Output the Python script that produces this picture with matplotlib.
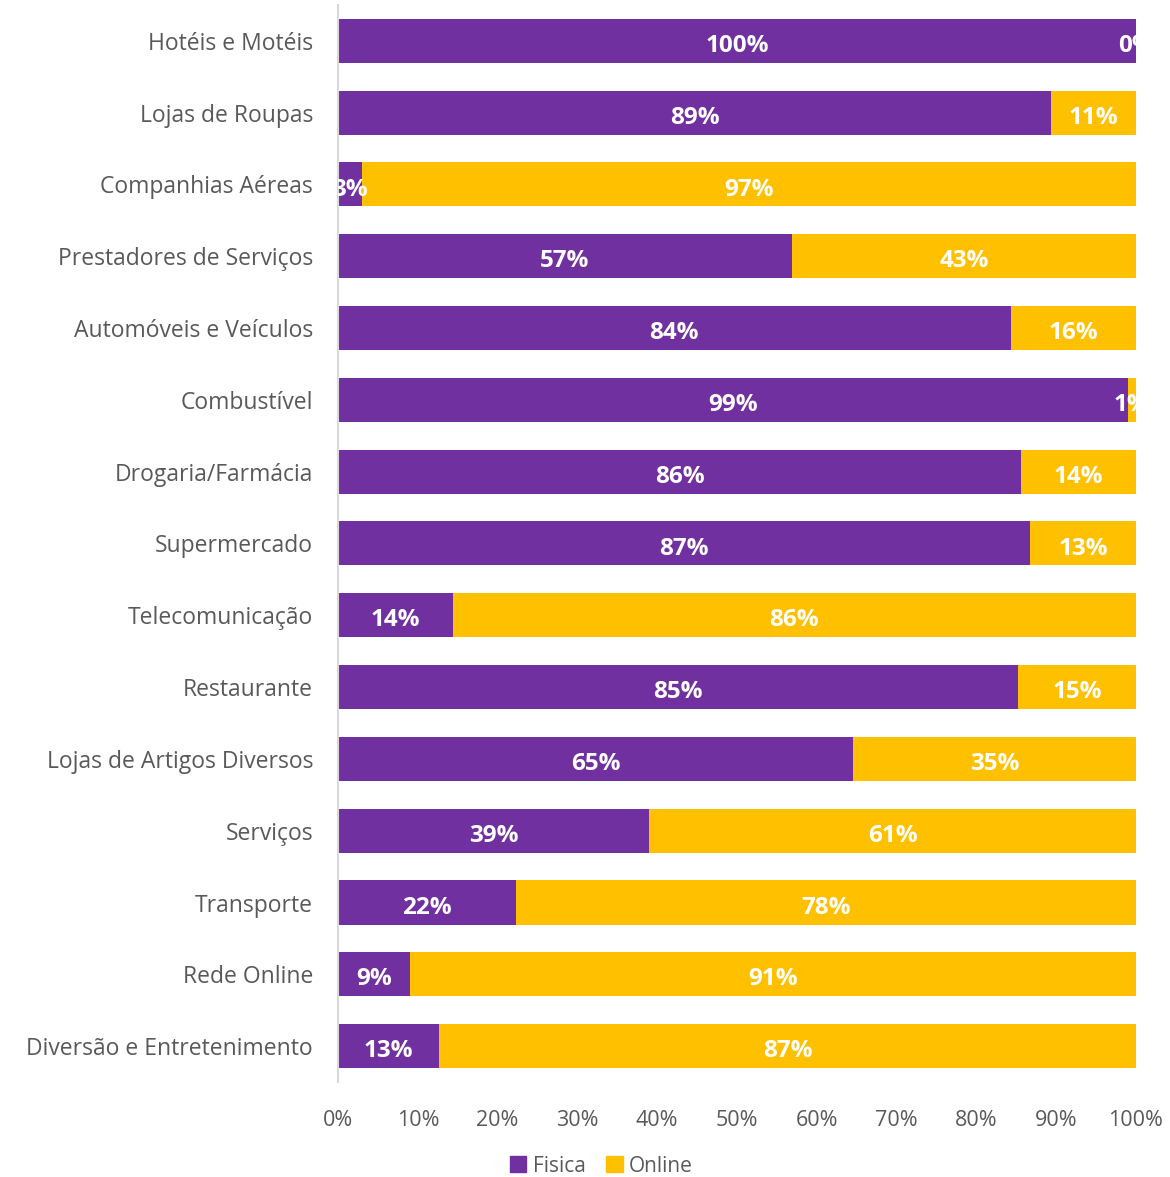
import numpy as np
import matplotlib.pyplot as plt
from matplotlib.patches import Patch

categorias = ['Hotéis e Motéis', 'Lojas de Roupas', 'Companhias Aéreas', 'Prestadores de Serviços',
              'Automóveis e Veículos', 'Combustível', 'Drogaria/Farmácia', 'Supermercado',
              'Telecomunicação', 'Restaurante', 'Lojas de Artigos Diversos', 'Serviços',
              'Transporte', 'Rede Online', 'Diversão e Entretenimento']
fisica = [100.0, 89.4, 3.0, 56.9, 84.3, 99.0, 85.6, 86.7, 14.4, 85.2, 64.6, 39.0, 22.3, 9.0, 12.7]
online = [100.0 - v for v in fisica]

roxo = '#7030A0'
amarelo = '#FFC000'
fonte = 'Open Sans'

fig = plt.figure(figsize=(11.7, 11.77), dpi=100)
ax = fig.add_axes([0.2889, 0.0807, 0.6820, 0.9151])

y = np.arange(len(categorias))
ax.barh(y, fisica, height=0.613, color=roxo, label='Fisica')
ax.barh(y, online, left=fisica, height=0.613, color=amarelo, label='Online')

# rótulos dentro das barras
for i in range(len(categorias)):
    ax.text(fisica[i] / 2, i + 0.03, f'{round(fisica[i])}%', ha='center', va='center_baseline',
            color='white', fontsize=17.5, fontweight='bold', family=fonte, clip_on=True)
    ax.text(fisica[i] + online[i] / 2, i + 0.03, f'{round(online[i])}%', ha='center', va='center_baseline',
            color='white', fontsize=17.5, fontweight='bold', family=fonte, clip_on=True)

ax.set_xlim(0, 100)
ax.set_ylim(len(categorias) - 0.5, -0.5)
ax.set_yticks(y)
ax.set_yticklabels(categorias, family=fonte, fontsize=16.5, color='#595959')
ax.set_xticks(np.arange(0, 101, 10))
ax.set_xticklabels([f'{v}%' for v in range(0, 101, 10)], family=fonte, fontsize=15.5, color='#595959')
ax.tick_params(axis='both', length=0)
ax.tick_params(axis='y', pad=18)
ax.tick_params(axis='x', pad=20)

for s in ['top', 'right', 'bottom']:
    ax.spines[s].set_visible(False)
ax.spines['left'].set_color('#D9D9D9')
ax.spines['left'].set_linewidth(1.5)

handles = [Patch(color=roxo, label='Fisica'), Patch(color=amarelo, label='Online')]
fig.legend(handles=handles, loc='center', bbox_to_anchor=(0.514, 0.0093), ncol=2, frameon=False,
           prop={'family': fonte, 'size': 15}, handlelength=0.8, handleheight=0.8,
           handletextpad=0.3, columnspacing=1.0, labelcolor='#595959')

fig.savefig('out.png', dpi=100)
